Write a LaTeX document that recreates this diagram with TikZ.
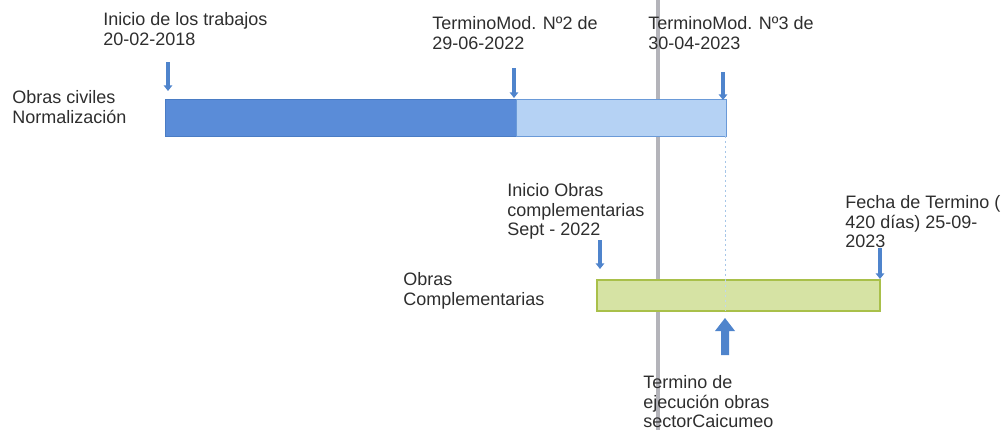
\documentclass[tikz,border=0pt]{standalone}
\usepackage{fontspec}
\setmainfont{Liberation Sans}
\usetikzlibrary{arrows.meta}
\definecolor{txtgray}{HTML}{2E2E2E}
\definecolor{darkblue}{HTML}{5A8CD8}
\definecolor{darkedge}{HTML}{4A7CC4}
\definecolor{lightblue}{HTML}{B5D2F4}
\definecolor{lightedge}{HTML}{6A9AD8}
\definecolor{greenfill}{HTML}{D6E3A4}
\definecolor{greenedge}{HTML}{A9C04A}
\definecolor{arrowblue}{HTML}{4F84CC}
\definecolor{foldgray}{HTML}{B4B4BA}
\definecolor{guideblue}{HTML}{A6C6E8}
\begin{document}
\begin{tikzpicture}[x=0.025cm,y=-0.025cm,
    lbl/.style={anchor=north west,inner sep=0pt,align=left,text=txtgray,
        font=\fontsize{12.8}{14}\selectfont},
    pointer/.style={arrowblue,line width=2.6pt,-{Triangle[width=6pt,length=4pt]}}]
        \useasboundingbox (0,0) rectangle (1005,430);
        \fill[foldgray] (656,0) rectangle (660,430);

        \draw[fill=darkblue,draw=darkedge] (165,99) rectangle (516,136);
        \draw[fill=lightblue,draw=lightedge] (516,99) rectangle (726,136);
        \draw[fill=greenfill,draw=greenedge,line width=0.8pt] (597,280) rectangle (880,311);
        \draw[guideblue,dash pattern=on 1.5pt off 2pt] (725,136) -- (725,280);
        \draw[guideblue!70,dash pattern=on 1.5pt off 2pt] (725,280) -- (725,311);

        \node[lbl] (civiles) at (12,90) {Obras civiles\\Normalización};
        \node[lbl] (complem) at (403,272) {Obras\\Complementarias};

        \node[lbl] (inicio) at (103,12) {Inicio de los trabajos\\20-02-2018};
        \node[lbl] (mod2) at (432,16) {TerminoMod. Nº2 de\\29-06-2022};
        \node[lbl] (mod3) at (648,16) {TerminoMod. Nº3 de\\30-04-2023};
        \node[lbl] (iniobras) at (507,183) {Inicio Obras\\complementarias\\Sept - 2022};
        \node[lbl] (fecha) at (845,195) {Fecha de Termino (\\420 días) 25-09-\\2023};
        \node[lbl] (caicumeo) at (643,375) {Termino de\\ejecución obras\\sectorCaicumeo};

        \foreach \x/\a/\b in {168/62/91, 514/68/98, 723/72/100, 600/240/269, 880/248/279}
            \draw[pointer] (\x,\a) -- (\x,\b);

        \fill[arrowblue] (725,318) -- (735,331) -- (729,331) -- (729,355)
            -- (721,355) -- (721,331) -- (715,331) -- cycle;
    \end{tikzpicture}
\end{document}
